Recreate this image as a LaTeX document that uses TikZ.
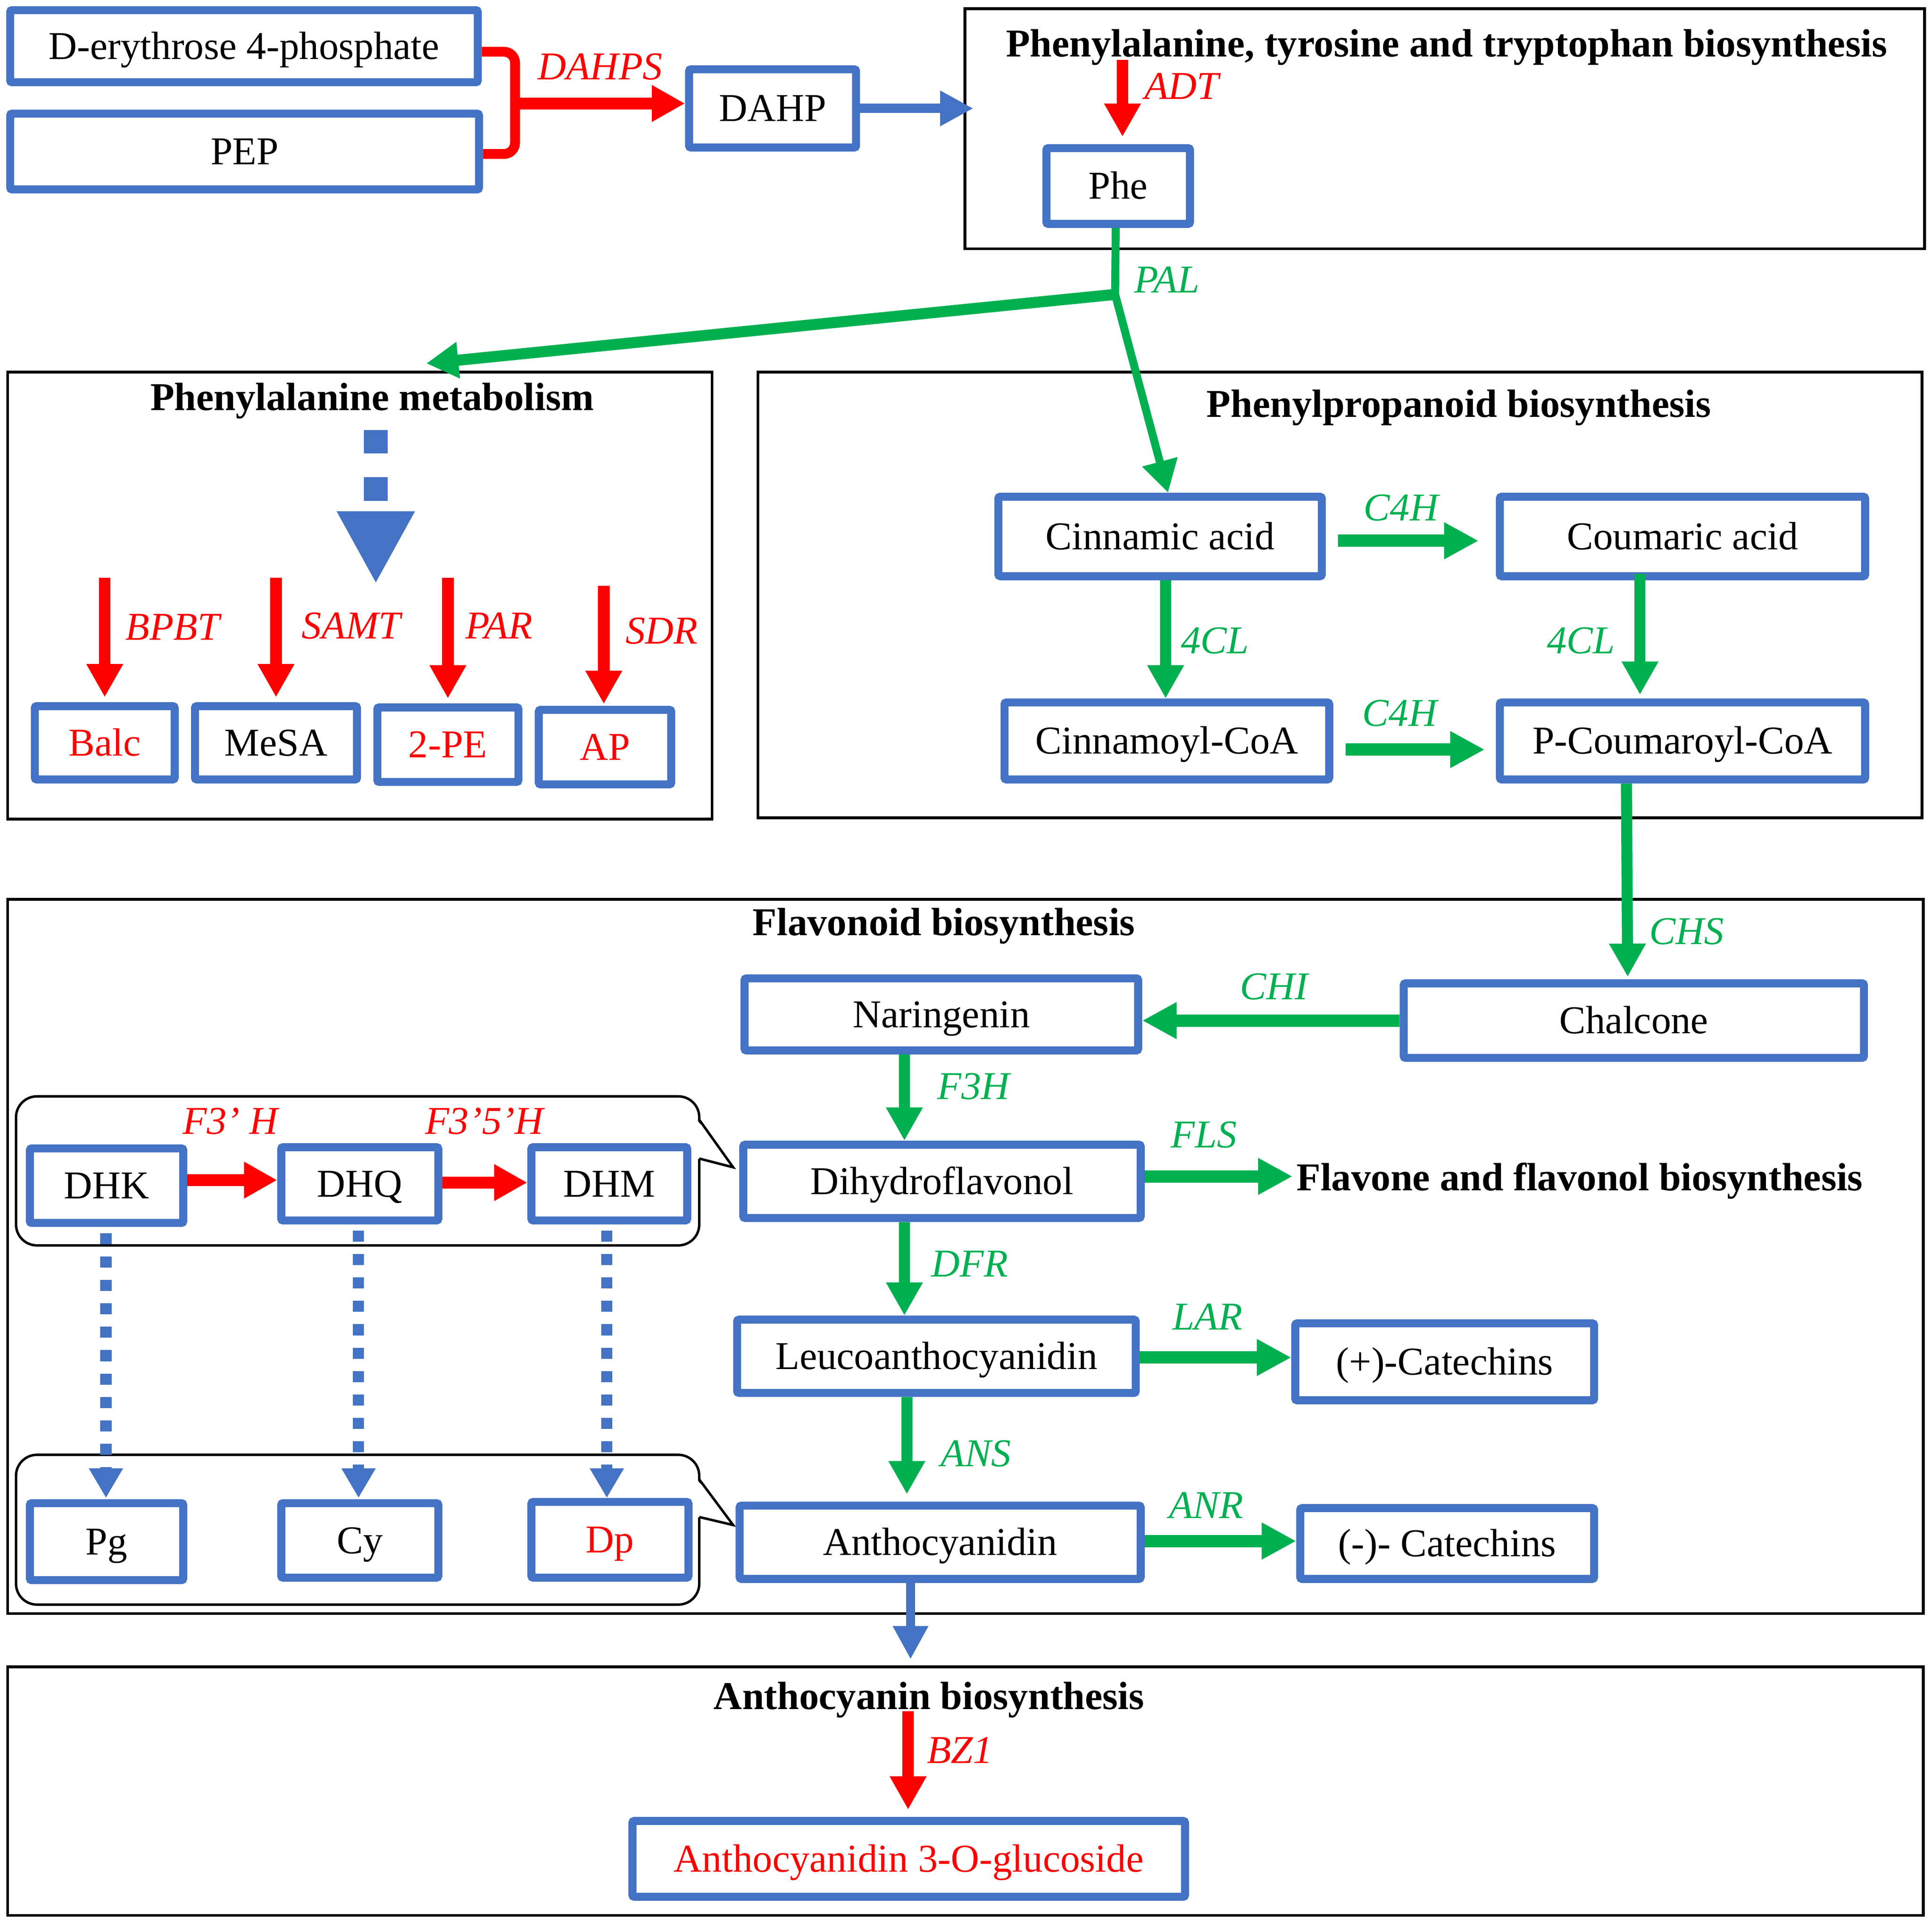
\documentclass[tikz,border=0pt]{standalone}
\usepackage{fontspec}
\setmainfont{Liberation Serif}
\usetikzlibrary{arrows.meta,calc}
\definecolor{bblue}{RGB}{68,114,196}
\definecolor{rred}{RGB}{255,0,0}
\definecolor{ggreen}{RGB}{0,176,80}
\begin{document}
\begin{tikzpicture}[x=1pt,y=-1pt,
  every node/.style={font=\fontsize{32}{38}\selectfont, text height=22pt, text depth=1pt, inner sep=0pt},
  box/.style={draw=bblue, line width=6.5pt, fill=white, rounded corners=1.5pt},
  sec/.style={draw=black, line width=2.2pt},
  callout/.style={draw=black, line width=2pt},
  ttl/.style={font=\fontsize{32}{38}\selectfont\bfseries},
  lab/.style={font=\fontsize{32}{38}\selectfont\itshape},
  rlab/.style={lab, text=rred},
  glab/.style={lab, text=ggreen},
  ra/.style={color=rred, line width=9.5pt, -{Triangle[length=27pt,width=28pt]}},
  gv/.style={color=ggreen, line width=9pt, -{Triangle[length=27pt,width=28pt]}},
  gh/.style={color=ggreen, line width=10pt, -{Triangle[length=28pt,width=28pt]}},
  ba/.style={color=bblue, line width=7.5pt, -{Triangle[length=27pt,width=27pt]}},
  bdot/.style={color=bblue, line width=9pt, dash pattern=on 9pt off 10pt, -{Triangle[length=24pt,width=26pt]}},
  bbig/.style={color=bblue, line width=19pt, dash pattern=on 19pt off 19.5pt, -{Triangle[length=59pt,width=59pt]}}
]
\useasboundingbox (0,0) rectangle (1568,1563.2);

% section frames
\node[sec, minimum width=778.8pt, minimum height=194.8pt] (sec1) at (1172.5,104.5) {};
\node[sec, minimum width=571.8pt, minimum height=362.8pt] (sec2) at (292,483.5) {};
\node[sec, minimum width=944.8pt, minimum height=361.8pt] (sec3) at (1087.5,483) {};
\node[sec, minimum width=1554.8pt, minimum height=579.8pt] (sec4) at (783.5,1020) {};
\node[sec, minimum width=1554.8pt, minimum height=201.8pt] (sec5) at (783.5,1454) {};

% titles
\node[ttl] (t1) at (1174,35.5) {Phenylalanine, tyrosine and tryptophan biosynthesis};
\node[ttl] (t2) at (302,322.5) {Phenylalanine metabolism};
\node[ttl] (t3) at (1184,328) {Phenylpropanoid biosynthesis};
\node[ttl] (t4) at (766,749) {Flavonoid biosynthesis};
\node[ttl, anchor=west] (t5) at (1052,956) {Flavone and flavonol biosynthesis};
\node[ttl] (t6) at (754,1377) {Anthocyanin biosynthesis};

% callouts
\draw[callout, rounded corners=17pt] (13,890) rectangle (567.5,1011);
\fill[white] (566,909.5) -- (595,947.6) -- (566,940.5) -- cycle;
\draw[callout, line join=miter] (567.5,909) -- (595,947.6) -- (567.5,940.5);
\draw[callout, rounded corners=17pt] (13,1181) rectangle (567.5,1302.6);
\fill[white] (566,1201.5) -- (595,1238) -- (566,1231.5) -- cycle;
\draw[callout, line join=miter] (567.5,1201) -- (595,1238) -- (567.5,1231.5);

% boxes
\node[box, minimum width=379.5pt, minimum height=58.5pt] (ery) at (198,37.5) {D-erythrose 4-phosphate};
\node[box, minimum width=380.5pt, minimum height=61.5pt] (pep) at (198.5,123) {PEP};
\node[box, minimum width=135.5pt, minimum height=63.5pt] (dahp) at (627,88) {DAHP};
\node[box, minimum width=116.5pt, minimum height=61.5pt] (phe) at (907.5,151) {Phe};
\node[box, minimum width=113.5pt, minimum height=59.5pt, text=rred] (balc) at (85,603) {Balc};
\node[box, minimum width=131.5pt, minimum height=59.5pt] (mesa) at (224,603) {MeSA};
\node[box, minimum width=114.5pt, minimum height=60.5pt, text=rred] (pe2) at (363.5,604.5) {2-PE};
\node[box, minimum width=107.5pt, minimum height=60.5pt, text=rred] (ap) at (491,606.5) {AP};
\node[box, minimum width=262.5pt, minimum height=64.5pt] (cinn) at (941.5,435.5) {Cinnamic acid};
\node[box, minimum width=296.5pt, minimum height=64.5pt] (coum) at (1365.5,435.5) {Coumaric acid};
\node[box, minimum width=263.5pt, minimum height=62.5pt] (cinco) at (947,601.5) {Cinnamoyl-CoA};
\node[box, minimum width=296.5pt, minimum height=62.5pt] (pcoum) at (1365.5,601.5) {P-Coumaroyl-CoA};
\node[box, minimum width=319.5pt, minimum height=58.5pt] (nar) at (764,823.5) {Naringenin};
\node[box, minimum width=373.5pt, minimum height=60.5pt] (chal) at (1326,828.5) {Chalcone};
\node[box, minimum width=322.5pt, minimum height=59.5pt] (dihy) at (764.5,959) {Dihydroflavonol};
\node[box, minimum width=323.5pt, minimum height=59.5pt] (leuco) at (760,1101) {Leucoanthocyanidin};
\node[box, minimum width=242.5pt, minimum height=62.5pt] (pcat) at (1172.5,1105.5) {(+)-Catechins};
\node[box, minimum width=325.5pt, minimum height=59.5pt] (anth) at (763,1252) {Anthocyanidin};
\node[box, minimum width=238.5pt, minimum height=57.5pt] (mcat) at (1174.5,1253) {(-)- Catechins};
\node[box, minimum width=448.5pt, minimum height=61.5pt, text=rred] (a3g) at (737.5,1509) {Anthocyanidin 3-O-glucoside};
\node[box, minimum width=124.5pt, minimum height=60.5pt] (dhk) at (86.5,962.5) {DHK};
\node[box, minimum width=127.5pt, minimum height=59.5pt] (dhq) at (292,961) {DHQ};
\node[box, minimum width=126.5pt, minimum height=59.5pt] (dhm) at (494.5,961) {DHM};
\node[box, minimum width=124.5pt, minimum height=62.5pt] (pg) at (86.5,1251.5) {Pg};
\node[box, minimum width=127.5pt, minimum height=60.5pt] (cy) at (292,1250.5) {Cy};
\node[box, minimum width=127.5pt, minimum height=61.5pt, text=rred] (dp) at (495,1250) {Dp};

% top connectors
\coordinate (bkt) at (418,84);
\draw[rred, line width=8pt, rounded corners=9pt] ($(ery.east)+(0,4.5)$) -| (bkt) |- ($(pep.east)+(0,2)$);
\draw[ra] (bkt) -- (bkt -| dahp.west);
\draw[ba] (dahp.east) -- ($(sec1.west |- dahp.east)+(8,0)$);
\draw[ra] ($(phe.north)+(3.5,-68.5)$) -- ($(phe.north)+(3.5,-6)$);

\coordinate (J) at (905,239);
\coordinate (pmtip) at (346,295);
\draw[color=ggreen, line width=9pt, -{Triangle[length=26pt,width=28pt]}] (J) -- (pmtip);
\draw[color=ggreen, line width=6.5pt, line join=round, -{Triangle[length=26pt,width=28pt]}] ($(phe.south)+(-2,0)$) -- (J) -- ($(cinn.north)+(6.5,0)$);

% phenylalanine metabolism
\coordinate (pmA) at (305,349);
\coordinate (pmB) at (305,474);
\draw[bbig] (pmA) -- (pmB);
\draw[ra] ($(balc.north)+(0,-101)$) -- ($(balc.north)+(0,-4)$);
\draw[ra] ($(mesa.north)+(0,-101)$) -- ($(mesa.north)+(0,-4)$);
\draw[ra] ($(pe2.north)+(0,-102)$) -- ($(pe2.north)+(0,-4)$);
\draw[ra] ($(ap.north)+(-1,-97.5)$) -- ($(ap.north)+(-1,-1.5)$);

% phenylpropanoid
\draw[gh] ($(cinn.east)+(10,3.5)$) -- ($(coum.west)+(-14,3.5)$);
\draw[gh] ($(cinco.east)+(10,7)$) -- ($(pcoum.west)+(-9,7)$);
\draw[gv] ($(cinn.south)+(4.5,0)$) -- ($(cinco.north)+(-1,0)$);
\draw[gv] ($(coum.south)+(-34.5,-5)$) -- ($(pcoum.north)+(-34.5,-3)$);
\draw[gv] ($(pcoum.south)+(-45.5,0)$) -- ($(chal.north)+(-5,-2)$);

% flavonoid
\draw[gh] (chal.west) -- (chal.west -| nar.east);
\draw[gv] ($(nar.south)+(-30,0)$) -- ($(dihy.north)+(-30.5,0)$);
\draw[gh] ($(dihy.east)+(0,-4)$) -- ($(t5.west)+(-3,-1)$);
\draw[gv] ($(dihy.south)+(-30.5,0)$) -- ($(leuco.north)+(-26,0)$);
\draw[gh] ($(leuco.east)+(0,1)$) -- ($(leuco.east -| pcat.west)+(0,1)$);
\draw[gv] ($(leuco.south)+(-24,0)$) -- ($(anth.north)+(-27,-6)$);
\draw[gh] ($(anth.east)+(0,-1)$) -- ($(anth.east -| mcat.west)+(0,-1)$);
\draw[ba] ($(anth.south)+(-24,0)$) -- ($(sec5.north -| anth.south)+(-24,-5)$);
\draw[ra] ($(a3g.north)+(-0.5,-86)$) -- ($(a3g.north)+(-0.5,-6)$);

% DHK group
\draw[ra] ($(dhk.east)+(0,-4.5)$) -- ($(dhq.west)+(0,-3)$);
\draw[ra] ($(dhq.east)+(0,-1)$) -- ($(dhm.west)+(0,-1)$);
\draw[bdot] ($(dhk.south)+(-0.5,5)$) -- ($(pg.north)+(-0.5,-1)$);
\draw[bdot] ($(dhq.south)+(-1,5)$) -- ($(cy.north)+(-1,-1)$);
\draw[bdot] ($(dhm.south)+(-2,5)$) -- ($(dp.north)+(-2.5,0)$);

% enzyme labels
\node[rlab] (lDAHPS) at (487,54) {DAHPS};
\node[rlab] (lADT) at (959,70) {ADT};
\node[glab] (lPAL) at (947,227) {PAL};
\node[rlab] (lBPBT) at (140,509) {BPBT};
\node[rlab] (lSAMT) at (285,508) {SAMT};
\node[rlab] (lPAR) at (405,508) {PAR};
\node[rlab] (lSDR) at (537,512) {SDR};
\node[glab] (lC4Ha) at (1137,412) {C4H};
\node[glab] (lC4Hb) at (1136,579) {C4H};
\node[glab] (l4CLa) at (986,520) {4CL};
\node[glab] (l4CLb) at (1283,520) {4CL};
\node[glab] (lCHS) at (1369,756) {CHS};
\node[glab] (lCHI) at (1034,801) {CHI};
\node[glab] (lF3H) at (790,882) {F3H};
\node[glab] (lFLS) at (977,921) {FLS};
\node[glab] (lDFR) at (787,1026) {DFR};
\node[glab] (lLAR) at (980,1069) {LAR};
\node[glab] (lANS) at (792,1180) {ANS};
\node[glab] (lANR) at (979,1222) {ANR};
\node[rlab] (lBZ1) at (779,1421) {BZ1};
\node[rlab] (lF3H1) at (187,910) {F3’ H};
\node[rlab] (lF3H2) at (393,910) {F3’5’H};
\end{tikzpicture}
\end{document}
